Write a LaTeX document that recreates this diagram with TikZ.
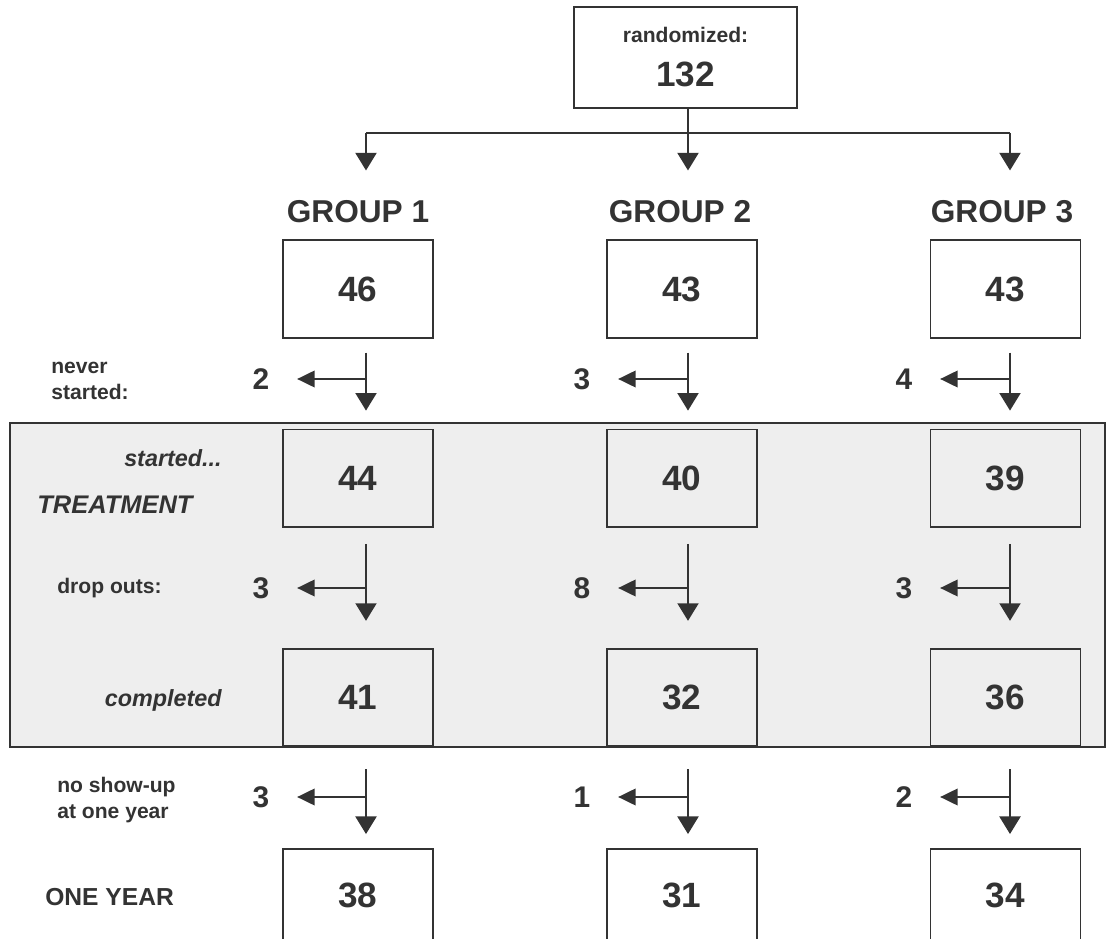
\documentclass[tikz,border=0pt]{standalone}
\usepackage{fontspec}
\setmainfont{Liberation Sans}
\usetikzlibrary{arrows.meta, positioning}
\definecolor{ink}{HTML}{333333}
\definecolor{shade}{HTML}{EEEEEE}
\tikzset{
    numbox/.style={
        rectangle,
        minimum width=3cm,
        minimum height=1.95cm,
        inner sep=0pt,
        text centered,
        draw=ink,
        line width=1pt,
        text=ink,
        font=\fontsize{20}{24}\selectfont\bfseries
    },
    yearbox/.style={
        numbox,
        minimum height=2.4cm,
        text depth=0.56cm
    },
    rootbox/.style={
        numbox,
        minimum width=4.46cm,
        minimum height=2.02cm,
        align=center
    },
    grouplabel/.style={
        inner sep=0pt,
        text=ink,
        font=\fontsize{18}{22}\selectfont\bfseries
    },
    lostlabel/.style={
        inner sep=0pt,
        text=ink,
        font=\fontsize{17}{20}\selectfont\bfseries
    },
    sidetext/.style={
        inner sep=0pt,
        text=ink,
        align=left,
        font=\fontsize{12}{14.5}\selectfont\bfseries
    },
    phasetext/.style={
        inner sep=0pt,
        text=ink,
        font=\fontsize{13.3}{16}\selectfont\bfseries\itshape
    },
    band/.style={
        draw=ink,
        fill=shade,
        line width=1pt
    },
    plain/.style={
        draw=ink,
        line width=1pt
    },
    downarrow/.style={
        plain,
        -{Triangle[width=12pt,length=10pt]}
    },
    sidearrow/.style={
        plain,
        -{Triangle[width=9.5pt,length=10pt]},
        shorten >=0.55cm
    }
}

\begin{document}
\begin{tikzpicture}[x=0.02cm, y=-0.02cm]
\useasboundingbox (0,0) rectangle (1113,939);
\clip (0,0) rectangle (1113,939);

% Treatment band
\draw[band] (10,423) rectangle (1105,747);

% Columns of the arrows
\coordinate (col1) at (366,0);
\coordinate (col2) at (688,0);
\coordinate (col3) at (1010,0);
\coordinate (fork) at (688,133);

% Nodes
\node (root) [rootbox] at (685.5,57.5) {{\fontsize{12}{14}\selectfont randomized:}\\[1pt]132};

\node (grp1) [grouplabel] at (358,212) {GROUP 1};
\node (grp2) [grouplabel] at (680,212) {GROUP 2};
\node (grp3) [grouplabel] at (1002,212) {GROUP 3};

\node (rand1) [numbox] at (358,289) {46};
\node (rand2) [numbox, right=3.44cm of rand1] {43};
\node (rand3) [numbox, right=3.44cm of rand2] {43};

\node (start1) [numbox, below=1.8cm of rand1] {44};
\node (start2) [numbox, below=1.8cm of rand2] {40};
\node (start3) [numbox, below=1.8cm of rand3] {39};

\node (done1) [numbox, below=2.4cm of start1] {41};
\node (done2) [numbox, below=2.4cm of start2] {32};
\node (done3) [numbox, below=2.4cm of start3] {36};

\node (year1) [yearbox, below=2.02cm of done1] {38};
\node (year2) [yearbox, below=2.02cm of done2] {31};
\node (year3) [yearbox, below=2.02cm of done3] {34};

% Losses
\node (never1) [lostlabel] at (261,379) {2};
\node (never2) [lostlabel] at (582,379) {3};
\node (never3) [lostlabel] at (904,379) {4};
\node (drop1) [lostlabel] at (261,588) {3};
\node (drop2) [lostlabel] at (582,588) {8};
\node (drop3) [lostlabel] at (904,588) {3};
\node (noshow1) [lostlabel] at (261,797) {3};
\node (noshow2) [lostlabel] at (582,797) {1};
\node (noshow3) [lostlabel] at (904,797) {2};

% Side texts
\node (nevertext) [sidetext, anchor=west] at (51,381) {never\\started:};
\node (startedtext) [phasetext, anchor=east] at (222,458) {started...};
\node (treattext) [phasetext, anchor=west, font=\fontsize{14.5}{17}\selectfont\bfseries\itshape] at (37,505) {TREATMENT};
\node (droptext) [sidetext, anchor=west] at (57,588) {drop outs:};
\node (donetext) [phasetext, anchor=east] at (222,700) {completed};
\node (noshowtext) [sidetext, anchor=west] at (57,800) {no show-up\\at one year};
\node (yeartext) [grouplabel, anchor=west, font=\fontsize{14}{17}\selectfont\bfseries] at (45,897) {ONE YEAR};

% Arrows
\draw[plain] (root.south -| fork) -- (fork);
\draw[plain] (fork -| col1) -- (fork -| col3);
\draw[downarrow, shorten >=0.6cm] (fork -| col1) -- (grp1.north -| col1);
\draw[downarrow, shorten >=0.6cm] (fork -| col2) -- (grp2.north -| col2);
\draw[downarrow, shorten >=0.6cm] (fork -| col3) -- (grp3.north -| col3);

\draw[downarrow, shorten <=0.28cm, shorten >=0.36cm] (rand1.south -| col1) -- (start1.north -| col1);
\draw[downarrow, shorten <=0.28cm, shorten >=0.36cm] (rand2.south -| col2) -- (start2.north -| col2);
\draw[downarrow, shorten <=0.28cm, shorten >=0.36cm] (rand3.south -| col3) -- (start3.north -| col3);
\draw[sidearrow] (never1 -| col1) -- (never1);
\draw[sidearrow] (never2 -| col2) -- (never2);
\draw[sidearrow] (never3 -| col3) -- (never3);

\draw[downarrow, shorten <=0.32cm, shorten >=0.54cm] (start1.south -| col1) -- (done1.north -| col1);
\draw[downarrow, shorten <=0.32cm, shorten >=0.54cm] (start2.south -| col2) -- (done2.north -| col2);
\draw[downarrow, shorten <=0.32cm, shorten >=0.54cm] (start3.south -| col3) -- (done3.north -| col3);
\draw[sidearrow] (drop1 -| col1) -- (drop1);
\draw[sidearrow] (drop2 -| col2) -- (drop2);
\draw[sidearrow] (drop3 -| col3) -- (drop3);

\draw[downarrow, shorten <=0.44cm, shorten >=0.28cm] (done1.south -| col1) -- (year1.north -| col1);
\draw[downarrow, shorten <=0.44cm, shorten >=0.28cm] (done2.south -| col2) -- (year2.north -| col2);
\draw[downarrow, shorten <=0.44cm, shorten >=0.28cm] (done3.south -| col3) -- (year3.north -| col3);
\draw[sidearrow] (noshow1 -| col1) -- (noshow1);
\draw[sidearrow] (noshow2 -| col2) -- (noshow2);
\draw[sidearrow] (noshow3 -| col3) -- (noshow3);

\end{tikzpicture}
\end{document}
